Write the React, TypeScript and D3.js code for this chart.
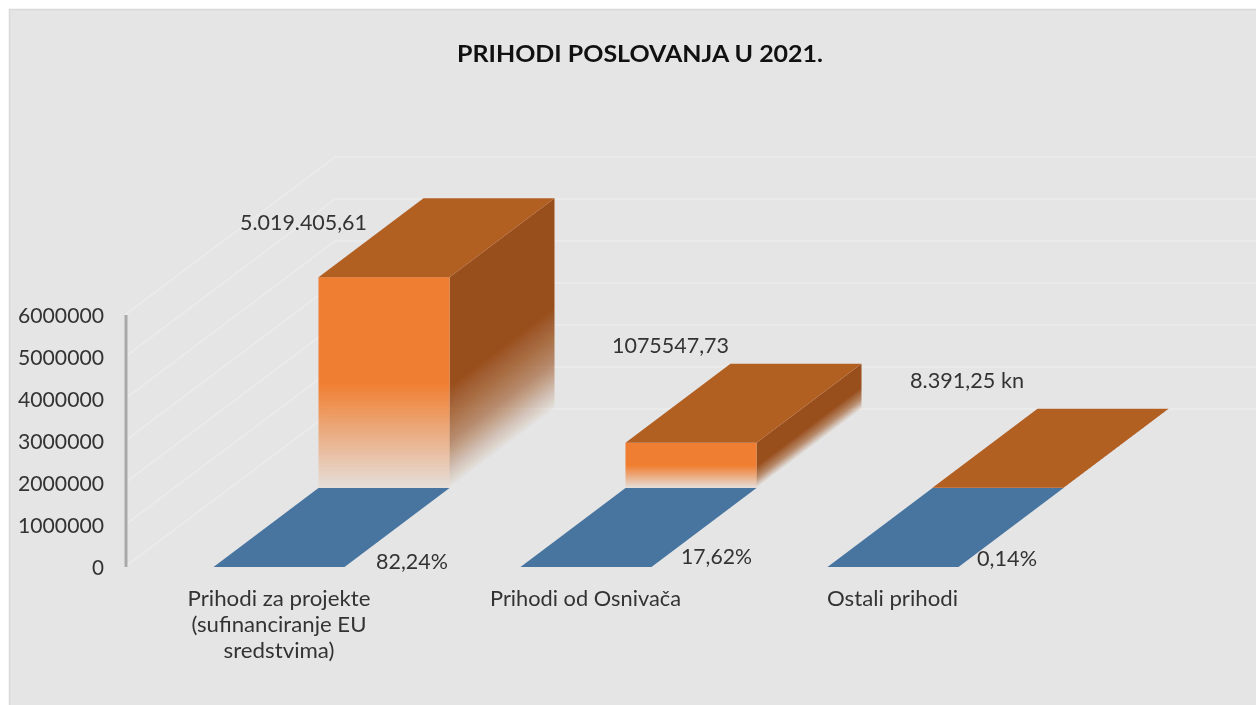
import React from "react";
import * as d3 from "d3";

const title = "PRIHODI POSLOVANJA U 2021.";
const categories = ["Prihodi za projekte", "Prihodi od Osnivača", "Ostali prihodi"];
const revenue = [5019405.61, 1075547.73, 8391.25];
const revenueLabels = ["5.019.405,61", "1075547,73", "8.391,25 kn"];
const shareLabels = ["82,24%", "17,62%", "0,14%"];
const yTicks = [0, 1000000, 2000000, 3000000, 4000000, 5000000, 6000000];

const W = 1256, H = 705;
const FONT = "Lato, 'Open Sans', sans-serif";
const TEXT = "#333333";
const y = d3.scaleLinear().domain([0, 6000000]).range([567, 315]);
const x = d3.scalePoint<string>().domain(categories).range([213.5, 827.5]);
const BAR_W = 131;
// one depth row of the 3D plot (floor row and the row behind it)
const ROW_DX = 105, ROW_DY = 79;
const WALL_DX = 210, WALL_DY = 158;
const AXIS_X = 125;
const SKEW = -ROW_DY / ROW_DX;

const quad = d3.line<[number, number]>();
const para = (x0: number, y0: number, w: number, dx: number, dy: number) =>
  quad([[x0, y0], [x0 + w, y0], [x0 + w + dx, y0 - dy], [x0 + dx, y0 - dy]]) + "Z";

const valueAnchors = [
  { x: 303.5, y: 221, w: 127 },
  { x: 670.5, y: 344, w: 117 },
  { x: 967, y: 379, w: 114 },
];
const shareAnchors = [
  { x: 412, y: 560, w: 72 },
  { x: 716.5, y: 555, w: 71 },
  { x: 1007, y: 557, w: 60 },
];
const catLines = [
  [{ t: "Prihodi za projekte", w: 183 }, { t: "(sufinanciranje EU", w: 175 }, { t: "sredstvima)", w: 111 }],
  [{ t: categories[1], w: 191 }],
  [{ t: categories[2], w: 131 }],
];
const catCenters = [279, 585.5, 892.5];

function Label({ x, y, w, children, anchor = "middle", size = 21, weight = 400 }: any) {
  return (
    <text x={x} y={y} textAnchor={anchor} dominantBaseline="central" fontFamily={FONT} fontSize={size}
      fontWeight={weight} fill={TEXT} textLength={w} lengthAdjust="spacingAndGlyphs">
      {children}
    </text>
  );
}

export default function App() {
  return (
    <svg width={W} height={H} viewBox={`0 0 ${W} ${H}`} style={{ position: "absolute", left: 0, top: 0 }}>
      <defs>
        <linearGradient id="front" x1="0" y1="0" x2="0" y2="1">
          <stop offset="0.5" stopColor="#f07e30" />
          <stop offset="0.62" stopColor="#f07e30" stopOpacity={0.78} />
          <stop offset="1" stopColor="#f07e30" stopOpacity={0.05} />
        </linearGradient>
        <linearGradient id="side" x1="0" y1="0" x2="0" y2="1">
          <stop offset="0.52" stopColor="#994f1c" />
          <stop offset="0.78" stopColor="#994f1c" stopOpacity={0.6} />
          <stop offset="1" stopColor="#994f1c" stopOpacity={0} />
        </linearGradient>
        <filter id="soft" x="-5%" y="-5%" width="110%" height="110%">
          <feGaussianBlur stdDeviation="0.5" />
        </filter>
      </defs>
      <rect width={W} height={H} fill="#ffffff" />
      <rect x={9.5} y={9.5} width={W} height={H} fill="#e5e5e5" stroke="#d9d9d9" strokeWidth={1.5} />

      <g stroke="#ebebeb" strokeWidth={1.6} fill="none">
        {yTicks.map((t) => (
          <path key={t} d={quad([[AXIS_X, y(t)], [AXIS_X + WALL_DX, y(t) - WALL_DY], [W, y(t) - WALL_DY]]) as string} />
        ))}
      </g>
      <rect x={124.5} y={y(6000000)} width={3} height={y(0) - y(6000000)} fill="#a9a9a9" filter="url(#soft)" />

      <g filter="url(#soft)">
        {categories.map((c, i) => {
          const x0 = x(c) as number;
          const fx = x0 + ROW_DX;
          const base = y(0) - ROW_DY;
          const h = y(0) - y(revenue[i]);
          const top = base - h;
          return (
            <g key={c}>
              <path d={para(x0, y(0), BAR_W, ROW_DX, ROW_DY)} fill="#4674a0" />
              <g transform={`matrix(1 ${SKEW} 0 1 ${fx + BAR_W} ${top})`}>
                <rect width={ROW_DX} height={h} fill="url(#side)" />
              </g>
              <rect x={fx} y={top} width={BAR_W} height={h} fill="url(#front)" />
              <path d={para(fx, top, BAR_W, ROW_DX, ROW_DY)} fill="#b25e24" />
            </g>
          );
        })}
      </g>

      {yTicks.map((t) => (
        <Label key={t} x={104} y={y(t) - 0.5} anchor="end" w={t === 0 ? 12 : 86}>{t}</Label>
      ))}
      {revenueLabels.map((s, i) => (
        <Label key={s} x={valueAnchors[i].x} y={valueAnchors[i].y} w={valueAnchors[i].w}>{s}</Label>
      ))}
      {shareLabels.map((s, i) => (
        <Label key={s} x={shareAnchors[i].x} y={shareAnchors[i].y} w={shareAnchors[i].w}>{s}</Label>
      ))}
      {catLines.map((lines, i) =>
        lines.map((l, j) => (
          <Label key={l.t} x={catCenters[i]} y={597.5 + j * 26} w={l.w}>{l.t}</Label>
        ))
      )}
      <text x={640} y={53} textAnchor="middle" dominantBaseline="central" fontFamily={FONT} fontSize={23}
        fontWeight={700} fill="#111111" textLength={366} lengthAdjust="spacingAndGlyphs">{title}</text>
    </svg>
  );
}
